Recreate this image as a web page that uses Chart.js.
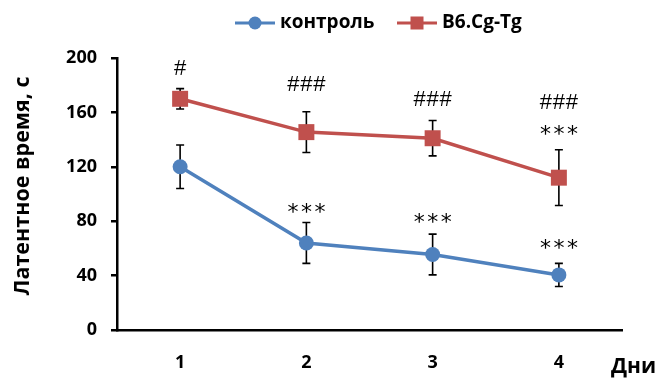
<!DOCTYPE html>
<html>
<head>
<meta charset="utf-8">
<script src="https://cdn.jsdelivr.net/npm/chart.js@4"></script>
<style>
  html, body { margin: 0; padding: 0; background: #fff; }
</style>
</head>
<body>
<canvas id="chart" width="663" height="378"></canvas>
<script>
// Days of training
const days = ['1', '2', '3', '4'];

// Latency, s: means and error bars
const controlValues = [120, 64, 55.5, 40.5];
const controlErrors = [16, 15, 15, 8.5];
const tgValues = [170, 145.5, 141, 112];
const tgErrors = [7.5, 15, 13, 20.5];

// Significance marks and the value level they are centred on
const tgMarks = ['#', '###', '###', '###'];
const tgMarkLevels = [193, 181, 170, 168];
const tgStars = ['', '', '', '***'];
const tgStarLevels = [0, 0, 0, 147];
const controlStars = ['', '***', '***', '***'];
const controlStarLevels = [0, 90, 82, 63];

const yTicks = [0, 40, 80, 120, 160, 200];

const FONT = '"Open Sans", "DejaVu Sans", sans-serif';
const BLUE = '#4F81BD';
const RED = '#C0504D';

// draw each character of a mark with a fixed step, centred on (cx, cy)
function drawSpaced(ctx, text, cx, cy, step) {
    const n = text.length;
    const m = ctx.measureText(text[0]);
    const dy = (m.actualBoundingBoxAscent - m.actualBoundingBoxDescent) / 2;
    for (let k = 0; k < n; k++) {
        ctx.fillText(text[k], cx + (k - (n - 1) / 2) * step, cy + dy);
    }
}

const extrasPlugin = {
    id: 'extras',
    beforeDatasetsDraw(chart) {
        // error bars go under the markers
        const { ctx, scales: { x, y } } = chart;
        ctx.save();
        ctx.strokeStyle = '#000';
        ctx.lineWidth = 1.6;
        chart.data.datasets.forEach(ds => {
            ds.data.forEach((v, i) => {
                const px = x.getPixelForValue(i);
                const top = y.getPixelForValue(v + ds.errors[i]);
                const bot = y.getPixelForValue(v - ds.errors[i]);
                ctx.beginPath();
                ctx.moveTo(px, top); ctx.lineTo(px, bot);
                ctx.moveTo(px - 4, top); ctx.lineTo(px + 4, top);
                ctx.moveTo(px - 4, bot); ctx.lineTo(px + 4, bot);
                ctx.stroke();
            });
        });
        ctx.restore();
    },
    afterDatasetsDraw(chart) {
        const { ctx, scales: { x, y } } = chart;
        ctx.save();
        ctx.fillStyle = '#000';
        ctx.textAlign = 'center';
        ctx.textBaseline = 'alphabetic';

        ctx.font = '22px "Liberation Sans", sans-serif';
        tgMarks.forEach((t, i) => {
            if (t) drawSpaced(ctx, t, x.getPixelForValue(i), y.getPixelForValue(tgMarkLevels[i]), 13);
        });

        ctx.font = '22px "DejaVu Sans", sans-serif';
        tgStars.forEach((t, i) => {
            if (t) drawSpaced(ctx, t, x.getPixelForValue(i), y.getPixelForValue(tgStarLevels[i]), 13.5);
        });
        controlStars.forEach((t, i) => {
            if (t) drawSpaced(ctx, t, x.getPixelForValue(i), y.getPixelForValue(controlStarLevels[i]), 13.5);
        });
        ctx.restore();
    },
    afterDraw(chart) {
        const { ctx } = chart;
        ctx.save();
        ctx.fillStyle = '#000';

        // legend: line + marker + label
        const legendY = 23;
        const legendX = [235, 397];
        chart.data.datasets.forEach((ds, i) => {
            const x0 = legendX[i];
            ctx.strokeStyle = ds.borderColor;
            ctx.lineWidth = 3;
            ctx.beginPath();
            ctx.moveTo(x0, legendY);
            ctx.lineTo(x0 + 40, legendY);
            ctx.stroke();
            ctx.fillStyle = ds.pointBackgroundColor;
            if (ds.pointStyle === 'rect') {
                ctx.fillRect(x0 + 20 - 6.5, legendY - 6.5, 13, 13);
            } else {
                ctx.beginPath();
                ctx.arc(x0 + 20, legendY, 6.5, 0, Math.PI * 2);
                ctx.fill();
            }
            ctx.fillStyle = '#000';
            ctx.font = 'bold 19px ' + FONT;
            ctx.textAlign = 'left';
            ctx.textBaseline = 'middle';
            ctx.fillText(ds.label, x0 + 45, legendY);
        });

        // axis titles
        ctx.font = 'bold 21px ' + FONT;
        ctx.textAlign = 'left';
        ctx.textBaseline = 'middle';
        ctx.fillText('Дни', 611, 367);

        ctx.font = 'bold 21.5px ' + FONT;
        ctx.translate(23, 186);
        ctx.rotate(-Math.PI / 2);
        ctx.textAlign = 'center';
        ctx.fillText('Латентное время, с', 0, 0);
        ctx.restore();
    }
};

new Chart(document.getElementById('chart'), {
    type: 'line',
    data: {
        labels: days,
        datasets: [
            {
                label: 'контроль',
                data: controlValues,
                errors: controlErrors,
                borderColor: BLUE,
                backgroundColor: BLUE,
                pointBackgroundColor: BLUE,
                pointBorderWidth: 0,
                borderWidth: 3.5,
                pointStyle: 'circle',
                pointRadius: 7.5,
                tension: 0,
                clip: false
            },
            {
                label: 'B6.Cg-Tg',
                data: tgValues,
                errors: tgErrors,
                borderColor: RED,
                backgroundColor: RED,
                pointBackgroundColor: RED,
                pointBorderWidth: 0,
                borderWidth: 3.5,
                pointStyle: 'rect',
                pointRadius: 11.3,
                tension: 0,
                clip: false
            }
        ]
    },
    options: {
        responsive: false,
        animation: false,
        devicePixelRatio: 1,
        layout: { padding: { top: 58, right: 41, left: 0, bottom: 0 } },
        plugins: {
            legend: { display: false },
            tooltip: { enabled: false }
        },
        scales: {
            x: {
                offset: true,
                grid: { display: false, drawTicks: false },
                border: { display: true, color: '#000', width: 2.5 },
                ticks: { color: '#000', padding: 22, font: { family: FONT, size: 18, weight: 'bold' } },
                afterFit: s => { s.height = 48; }
            },
            y: {
                min: 0,
                max: 200,
                grid: { display: true, drawOnChartArea: false, drawTicks: true, tickLength: 6, color: '#000', lineWidth: 2.5 },
                border: { display: true, color: '#000', width: 2.5 },
                ticks: { color: '#000', padding: 14, font: { family: FONT, size: 18, weight: 'bold' } },
                afterBuildTicks: s => { s.ticks = yTicks.map(v => ({ value: v })); },
                afterFit: s => { s.width = 117; }
            }
        }
    },
    plugins: [extrasPlugin]
});
</script>
</body>
</html>
